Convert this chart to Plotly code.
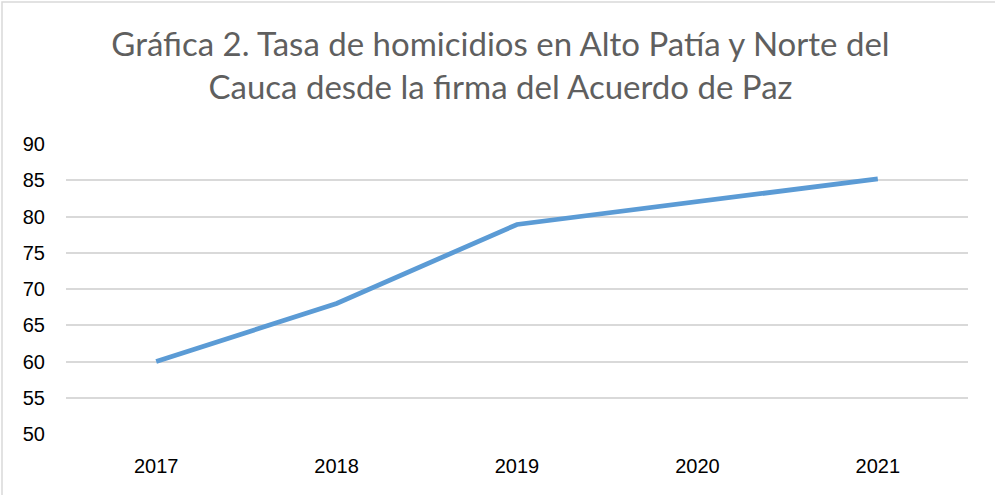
import plotly.graph_objects as go

years = ["2017", "2018", "2019", "2020", "2021"]
tasa = [60.0, 68.0, 78.9, 82.1, 85.2]
y_ticks = [50, 55, 60, 65, 70, 75, 80, 85, 90]
title_text = "Gráfica 2. Tasa de homicidios en Alto Patía y Norte del<br>Cauca desde la firma del Acuerdo de Paz"

W, H = 995, 495
L, R, T, B = 66, 27, 144, 61
pw, ph = W - L - R, H - T - B

fig = go.Figure()
fig.add_trace(go.Scatter(
    x=years, y=tasa, mode="lines",
    line=dict(color="#5B9BD5", width=4.8),
    hoverinfo="x+y",
))

fig.update_layout(
    width=W, height=H,
    margin=dict(l=L, r=R, t=T, b=B),
    paper_bgcolor="white", plot_bgcolor="white",
    showlegend=False,
    title=dict(
        text=title_text, xref="container", x=0.503, xanchor="center",
        yref="container", y=1 - 56 / H, yanchor="top",
        font=dict(family="Lato", size=33, color="#5f5f5f"),
    ),
    xaxis=dict(
        type="category", range=[-0.5, 4.5],
        showgrid=False, showline=False, zeroline=False, ticks="",
        tickfont=dict(family="Liberation Sans", size=20, color="#000000"),
        ticklabelstandoff=18,
    ),
    yaxis=dict(
        range=[50, 90], tickvals=y_ticks,
        showgrid=True, gridcolor="#D9D9D9", gridwidth=1.5,
        showline=False, zeroline=False, ticks="",
        tickfont=dict(family="Liberation Sans", size=20, color="#000000"),
        ticklabelstandoff=20,
    ),
    shapes=[dict(
        type="rect", xref="paper", yref="paper",
        x0=(2 - L) / pw, x1=(W + 5 - L) / pw,
        y0=-(B + 5) / ph, y1=1 + (T - 2) / ph,
        line=dict(color="#D9D9D9", width=1.5), fillcolor="rgba(0,0,0,0)",
        layer="below",
    )],
)

fig.write_html(
    "out.html",
    config={"displayModeBar": False},
    post_script="document.body.style.margin='0';document.body.style.overflow='hidden';",
)
